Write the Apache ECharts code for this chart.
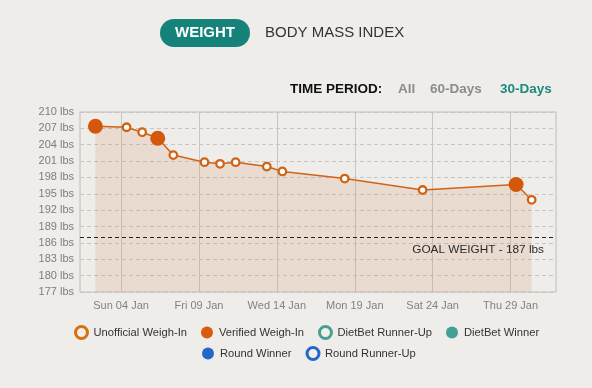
<!DOCTYPE html>
<html>
<head>
<meta charset="utf-8">
<script src="https://cdn.jsdelivr.net/npm/echarts@6/dist/echarts.min.js"></script>
<style>
html,body{margin:0;padding:0;background:#eeedea;}
#c{width:592px;height:388px;}
</style>
</head>
<body>
<div id="c"></div>
<script>
// ---- data ----
const weighDates = ['2015-01-02T08:30','2015-01-04T08:30','2015-01-05T08:30','2015-01-06T08:30','2015-01-07T08:30',
  '2015-01-09T08:30','2015-01-10T08:30','2015-01-11T08:30','2015-01-13T08:30','2015-01-14T08:30',
  '2015-01-18T08:30','2015-01-23T08:30','2015-01-29T08:30','2015-01-30T08:30'];
const weights = [207.4,207.2,206.3,205.2,202.1,200.8,200.5,200.8,200.0,199.1,197.8,195.7,196.7,193.9];
const weighKinds = ['verified','unofficial','unofficial','verified','unofficial','unofficial','unofficial',
  'unofficial','unofficial','unofficial','unofficial','unofficial','verified','unofficial'];
const xTickDates = ['2015-01-04T00:00','2015-01-09T00:00','2015-01-14T00:00','2015-01-19T00:00','2015-01-24T00:00','2015-01-29T00:00'];
const xRange = ['2015-01-01T08:45','2015-01-31T22:00'];
const yMin = 177, yMax = 210, yStep = 3;
const goalWeight = 187;
const legendRow1 = ['Unofficial Weigh-In','Verified Weigh-In','DietBet Runner-Up','DietBet Winner'];
const legendRow2 = ['Round Winner','Round Runner-Up'];

// ---- styles ----
const ORANGE = '#cf6417', ORANGE_F = '#d4570c';
const legendStyles = {
  'Unofficial Weigh-In': {color:'#f3efe9', borderColor:'#d9700f', borderWidth:3, opacity:1},
  'Verified Weigh-In': {color:'#d65c0c', borderWidth:0, opacity:1},
  'DietBet Runner-Up': {color:'#f3efe9', borderColor:'#47a096', borderWidth:3, opacity:1},
  'DietBet Winner': {color:'#42a096', borderWidth:0, opacity:1},
  'Round Winner': {color:'#2566cc', borderWidth:0, opacity:1},
  'Round Runner-Up': {color:'#f3efe9', borderColor:'#2566cc', borderWidth:3, opacity:1}
};
const ts = s => +new Date(s);
const days = ['Sun','Mon','Tue','Wed','Thu','Fri','Sat'];
const months = ['Jan','Feb','Mar','Apr','May','Jun','Jul','Aug','Sep','Oct','Nov','Dec'];
const pad = n => (n < 10 ? '0' : '') + n;

const points = weighDates.map((d, i) => {
  const v = weighKinds[i] === 'verified';
  return {
    value: [ts(d), weights[i]],
    symbolSize: v ? 15 : 7.5,
    itemStyle: v ? {color: ORANGE_F, borderColor: ORANGE_F, borderWidth: 0}
                 : {color: '#ffffff', borderColor: ORANGE, borderWidth: 2.3}
  };
});

const FONT = '"Liberation Sans", Arial, sans-serif';
const mkLegend = (names, left, top) => ({
  left: left, top: top, orient: 'horizontal', itemGap: 14, itemWidth: 12, itemHeight: 12, padding: 0,
  icon: 'circle',
  textStyle: {color: '#333', fontSize: 11.2, fontFamily: FONT, padding: [0, 0, 0, 1]},
  data: names.map(n => ({name: n, icon: 'circle', itemStyle: legendStyles[n]}))
});

const chart = echarts.init(document.getElementById('c'), null, {renderer: 'canvas'});
chart.setOption({
  backgroundColor: '#eeedea',
  animation: false,
  textStyle: {fontFamily: FONT},
  graphic: [
    {type: 'rect', shape: {x: 160, y: 19, width: 90, height: 28, r: 14}, style: {fill: '#16837a'}},
    {type: 'text', x: 205, y: 33, style: {text: 'WEIGHT', fill: '#fff', font: 'bold 15px ' + FONT, align: 'center', verticalAlign: 'middle'}},
    {type: 'text', x: 265, y: 33, style: {text: 'BODY MASS INDEX', fill: '#333', font: '15px ' + FONT, align: 'left', verticalAlign: 'middle'}},
    {type: 'text', x: 290, y: 89, style: {text: 'TIME PERIOD:', fill: '#111', font: 'bold 13.5px ' + FONT, align: 'left', verticalAlign: 'middle'}},
    {type: 'text', x: 398, y: 89, style: {text: 'All', fill: '#8c8c8c', font: 'bold 13.5px ' + FONT, align: 'left', verticalAlign: 'middle'}},
    {type: 'text', x: 430, y: 89, style: {text: '60-Days', fill: '#8c8c8c', font: 'bold 13.5px ' + FONT, align: 'left', verticalAlign: 'middle'}},
    {type: 'text', x: 500, y: 89, style: {text: '30-Days', fill: '#1d8a7f', font: 'bold 13.5px ' + FONT, align: 'left', verticalAlign: 'middle'}}
  ],
  legend: [mkLegend(legendRow1, 74, 325), mkLegend(legendRow2, 202, 346)],
  grid: {left: 80, right: 36, top: 112, bottom: 96, show: true, borderColor: '#bdbcba', borderWidth: 1, backgroundColor: 'transparent'},
  xAxis: {
    type: 'value', min: ts(xRange[0]), max: ts(xRange[1]),
    axisLine: {show: false}, axisTick: {show: false, customValues: xTickDates.map(ts)},
    splitLine: {show: true, lineStyle: {color: '#c6c5c3', width: 1, type: 'solid'}},
    axisLabel: {
      customValues: xTickDates.map(ts), color: '#828282', fontSize: 11, margin: 8,
      formatter: v => { const d = new Date(v); return days[d.getDay()] + ' ' + pad(d.getDate()) + ' ' + months[d.getMonth()]; }
    }
  },
  yAxis: {
    type: 'value', min: yMin, max: yMax, interval: yStep,
    axisLine: {show: false}, axisTick: {show: false},
    splitLine: {show: true, lineStyle: {color: '#c6c5c3', width: 1, type: [4, 3]}},
    axisLabel: {color: '#7d7d7d', fontSize: 11, margin: 6, padding: [0, 0, 4, 0], formatter: v => v + ' lbs'}
  },
  series: [
    {
      name: 'weight', type: 'line', data: points, symbol: 'circle', showAllSymbol: true,
      lineStyle: {color: ORANGE, width: 1.5},
      areaStyle: {color: 'rgba(214,150,100,0.28)', origin: 'start'},
      z: 3,
      markLine: {
        silent: true, symbol: ['none', 'none'],
        lineStyle: {color: '#222', width: 1, type: [4, 3]},
        label: {show: true, position: 'insideEndBottom', formatter: 'GOAL WEIGHT - ' + goalWeight + ' lbs',
          color: '#2a2a2a', fontSize: 11.8, distance: [12, 6]},
        data: [{yAxis: goalWeight}]
      }
    }
  ].concat(legendRow1.concat(legendRow2).map(n => ({name: n, type: 'scatter', data: [], itemStyle: legendStyles[n]})))
});
</script>
</body>
</html>
